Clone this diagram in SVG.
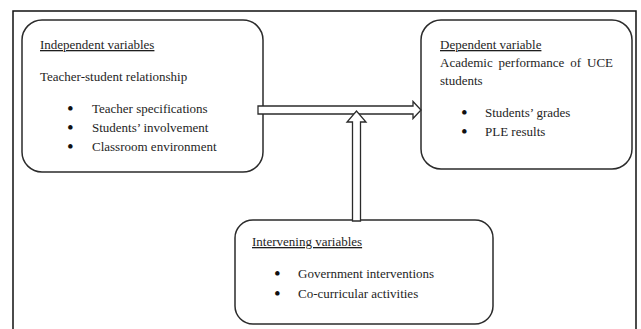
<svg xmlns="http://www.w3.org/2000/svg" width="641" height="329" viewBox="0 0 641 329">
<style>
.box{fill:#fff;stroke:#2b2b2b;stroke-width:1.5}
.t{font-family:"Liberation Serif","Times New Roman",Tinos,serif;font-size:13px;fill:#1e1e1e}
.b{font-family:"Liberation Serif","Times New Roman",Tinos,serif;font-size:19px;fill:#111}
.u{text-decoration:underline}
.arr{fill:#fff;stroke:#2b2b2b;stroke-width:1.3;stroke-linejoin:miter}
.frame{fill:none;stroke:#111;stroke-width:1.5}
</style>
<rect width="641" height="329" fill="#fff"/>
<path class="frame" d="M13,329 V11 H636 V329"/>
<g id="independent">
<rect class="box" x="22" y="20" width="241" height="152" rx="20" ry="20"/>
<text class="t u" x="40" y="49">Independent variables</text>
<text class="t" x="40" y="81">Teacher-student relationship</text>
<text class="b" x="67" y="115">•</text><text class="t" x="92" y="113">Teacher specifications</text>
<text class="b" x="67" y="134">•</text><text class="t" x="92" y="132">Students’ involvement</text>
<text class="b" x="67" y="153">•</text><text class="t" x="92" y="151">Classroom environment</text>
</g>
<g id="dependent">
<rect class="box" x="421" y="20" width="211" height="149" rx="20" ry="20"/>
<text class="t u" x="440" y="49">Dependent variable</text>
<text class="t" y="67"><tspan x="440">Academic</tspan><tspan x="498.6">performance</tspan><tspan x="570.2">of</tspan><tspan x="613" text-anchor="end">UCE</tspan></text>
<text class="t" x="440" y="85">students</text>
<text class="b" x="461" y="119">•</text><text class="t" x="485" y="117">Students’ grades</text>
<text class="b" x="461" y="138">•</text><text class="t" x="485" y="136">PLE results</text>
</g>
<g id="intervening">
<rect class="box" x="235" y="220" width="258" height="104" rx="18" ry="18"/>
<text class="t u" x="252" y="246">Intervening variables</text>
<text class="b" x="274" y="280">•</text><text class="t" x="298" y="278">Government interventions</text>
<text class="b" x="274" y="300">•</text><text class="t" x="298" y="298">Co-curricular activities</text>
</g>
<g id="connectors">
<path class="arr" d="M258,106 H413 V101.5 L421,110 L413,118.5 V114 H258 Z"/>
<path class="arr" d="M352.5,221 V122 H347 L356.5,111 L366,122 H360.5 V221 Z"/>
</g>
</svg>
